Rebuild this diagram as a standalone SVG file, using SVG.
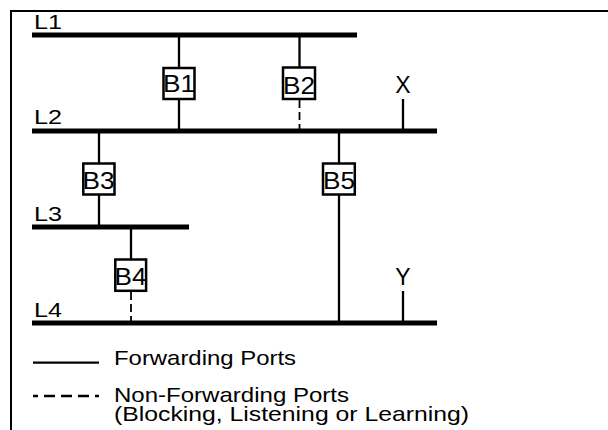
<svg xmlns="http://www.w3.org/2000/svg" width="608" height="430" viewBox="0 0 608 430">
  <style>
    .frame { fill: none; stroke: #000; stroke-width: 2; }
    .lan { stroke: #000; stroke-width: 5; }
    .fwd { stroke: #000; stroke-width: 2.3; fill: none; }
    .blk { stroke: #000; stroke-width: 1.8; fill: none; stroke-dasharray: 8 4; }
    .box { fill: #fff; stroke: #000; stroke-width: 2.5; }
    text { font-family: "Liberation Sans", Arial, sans-serif; fill: #000; }
    .lbl { font-size: 20.5px; }
    .br { font-size: 23px; text-anchor: middle; }
    .leg { font-size: 21px; }
  </style>

  <rect width="608" height="430" fill="#fff"/>

  <!-- outer frame (top and left edges only) -->
  <path class="frame" d="M11,430 V11 H608"/>

  <!-- connectors: bridge ports and station drops -->
  <g id="connectors">
    <line class="fwd" x1="179" y1="35" x2="179" y2="68"/>
    <line class="fwd" x1="179" y1="99" x2="179" y2="131"/>
    <line class="fwd" x1="299.5" y1="35" x2="299.5" y2="67"/>
    <line class="blk" x1="299.5" y1="100" x2="299.5" y2="131"/>
    <line class="fwd" x1="99" y1="131" x2="99" y2="163"/>
    <line class="fwd" x1="99" y1="195" x2="99" y2="227"/>
    <line class="fwd" x1="131" y1="227" x2="131" y2="259"/>
    <line class="blk" x1="131" y1="292" x2="131" y2="323"/>
    <line class="fwd" x1="339" y1="131" x2="339" y2="163"/>
    <line class="fwd" x1="339" y1="195" x2="339" y2="323"/>
    <line class="fwd" x1="403" y1="99" x2="403" y2="131"/>
    <line class="fwd" x1="403" y1="291" x2="403" y2="323"/>
  </g>

  <!-- LAN segments -->
  <g id="L1">
    <line class="lan" x1="32" y1="35" x2="357" y2="35"/>
    <text class="lbl" x="34" y="29" textLength="28" lengthAdjust="spacingAndGlyphs">L1</text>
  </g>
  <g id="L2">
    <line class="lan" x1="32" y1="131" x2="437" y2="131"/>
    <text class="lbl" x="34" y="124" textLength="28" lengthAdjust="spacingAndGlyphs">L2</text>
  </g>
  <g id="L3">
    <line class="lan" x1="32" y1="227" x2="189" y2="227"/>
    <text class="lbl" x="34" y="221" textLength="28" lengthAdjust="spacingAndGlyphs">L3</text>
  </g>
  <g id="L4">
    <line class="lan" x1="32" y1="323" x2="437" y2="323"/>
    <text class="lbl" x="34" y="317" textLength="28" lengthAdjust="spacingAndGlyphs">L4</text>
  </g>

  <!-- bridges -->
  <g id="B1">
    <rect class="box" x="163.5" y="68" width="31" height="31"/>
    <text class="br" x="179" y="92" textLength="32" lengthAdjust="spacingAndGlyphs">B1</text>
  </g>
  <g id="B2">
    <rect class="box" x="283" y="67.5" width="32" height="31.5"/>
    <text class="br" x="299" y="94" textLength="32" lengthAdjust="spacingAndGlyphs">B2</text>
  </g>
  <g id="B3">
    <rect class="box" x="83.3" y="163.5" width="31.2" height="31"/>
    <text class="br" x="98.5" y="188.5" textLength="32" lengthAdjust="spacingAndGlyphs">B3</text>
  </g>
  <g id="B4">
    <rect class="box" x="115.3" y="259.5" width="30.8" height="31.3"/>
    <text class="br" x="130.5" y="285" textLength="32" lengthAdjust="spacingAndGlyphs">B4</text>
  </g>
  <g id="B5">
    <rect class="box" x="323" y="163.5" width="31.8" height="31"/>
    <text class="br" x="339" y="189" textLength="32" lengthAdjust="spacingAndGlyphs">B5</text>
  </g>

  <!-- stations -->
  <g id="X">
    <text class="br" x="403" y="92.5">X</text>
  </g>
  <g id="Y">
    <text class="br" x="403" y="285">Y</text>
  </g>

  <!-- legend -->
  <g id="legend">
    <line class="fwd" x1="33" y1="362.7" x2="99" y2="362.7"/>
    <text class="leg" x="114" y="365" textLength="182" lengthAdjust="spacingAndGlyphs">Forwarding Ports</text>
    <line class="fwd" x1="33" y1="396" x2="99" y2="396" stroke-dasharray="11 6" stroke-dashoffset="6"/>
    <text class="leg" x="114" y="402" textLength="235" lengthAdjust="spacingAndGlyphs">Non-Forwarding Ports</text>
    <text class="leg" x="114" y="421" textLength="355" lengthAdjust="spacingAndGlyphs">(Blocking, Listening or Learning)</text>
  </g>
</svg>
